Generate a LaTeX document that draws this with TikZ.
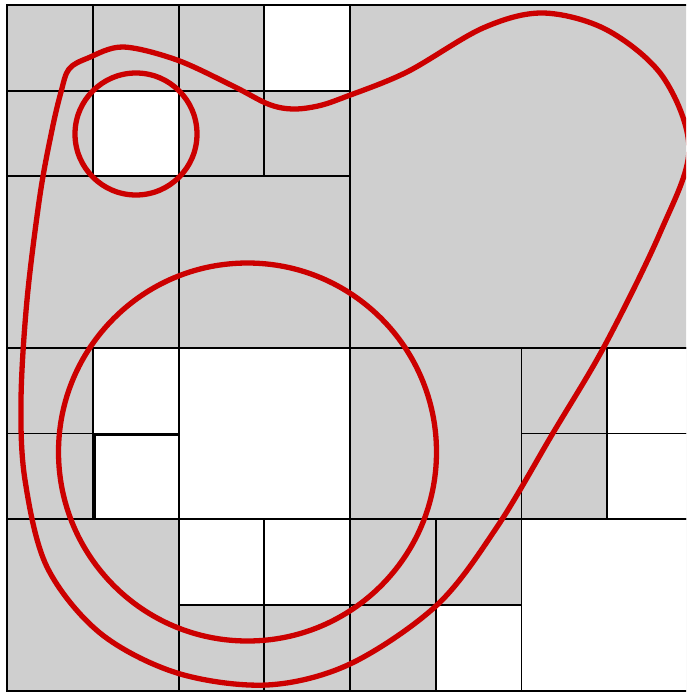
\documentclass[tikz,border=0pt]{standalone}
\definecolor{cellgrey}{RGB}{207,207,207}
\definecolor{curvered}{RGB}{204,0,0}
\tikzset{
  cellline/.style={draw=black, line width=1.9pt},
  whitecell/.style={fill=white},
  redline/.style={draw=curvered, line width=5.3pt, line join=round}
}
\begin{document}
\begin{tikzpicture}[x=1pt, y=-1pt]
\useasboundingbox (0,0) rectangle (686,694);
\clip (0,0) rectangle (686,694);
\fill[white] (0,0) rectangle (686,694);
\begin{scope}[shift={(7.3,5)}, x=85.7pt, y=-85.7pt]
  \fill[cellgrey] (0,0) rectangle (8,8);
  \foreach \c/\r/\s in {3/0/1, 1/1/1, 1/4/1, 1/5/1, 2/4/2, 2/6/1, 3/6/1, 7/4/1, 7/5/1, 5/7/1, 6/6/2}
    \fill[whitecell] (\c,\r) rectangle ++(\s,\s);
  \foreach \c/\r/\s in {0/0/1, 1/0/1, 0/1/1, 1/1/1, 2/0/1, 3/0/1, 2/1/1, 3/1/1, 0/2/2, 2/2/2,
                        4/0/4,
                        0/4/1, 1/4/1, 0/5/1, 1/5/1, 2/4/2, 0/6/2, 2/6/1, 3/6/1, 2/7/1, 3/7/1,
                        4/4/2, 6/4/1, 7/4/1, 6/5/1, 7/5/1, 4/6/1, 5/6/1, 4/7/1, 5/7/1, 6/6/2}
    \draw[cellline] (\c,\r) rectangle ++(\s,\s);
  \draw[black, line width=3.4pt] ([xshift=0.9pt]1,6) -- ([xshift=0.9pt, yshift=-0.9pt]1,5) -- ([yshift=-0.9pt]2,5);
\end{scope}
\draw[redline] (136,134) circle[radius=61];
\draw[redline] (247.5,452) circle[radius=189];
\draw[redline] plot[smooth cycle, tension=0.55] coordinates {
  (61,92) (69,69) (88,58) (123,47) (177,60) (233,86) (268,104) (292,109) (318,106) (345,97)
  (407,72) (483,28) (543,13) (607,30) (663,77) (689,150) (660,233)
  (605,345) (553,433) (497,527) (437,605) (350,664) (267,685)
  (177,673) (100,633) (47,567) (25,480) (21,400) (27,300) (40,195) (52,130)};
\end{tikzpicture}
\end{document}
